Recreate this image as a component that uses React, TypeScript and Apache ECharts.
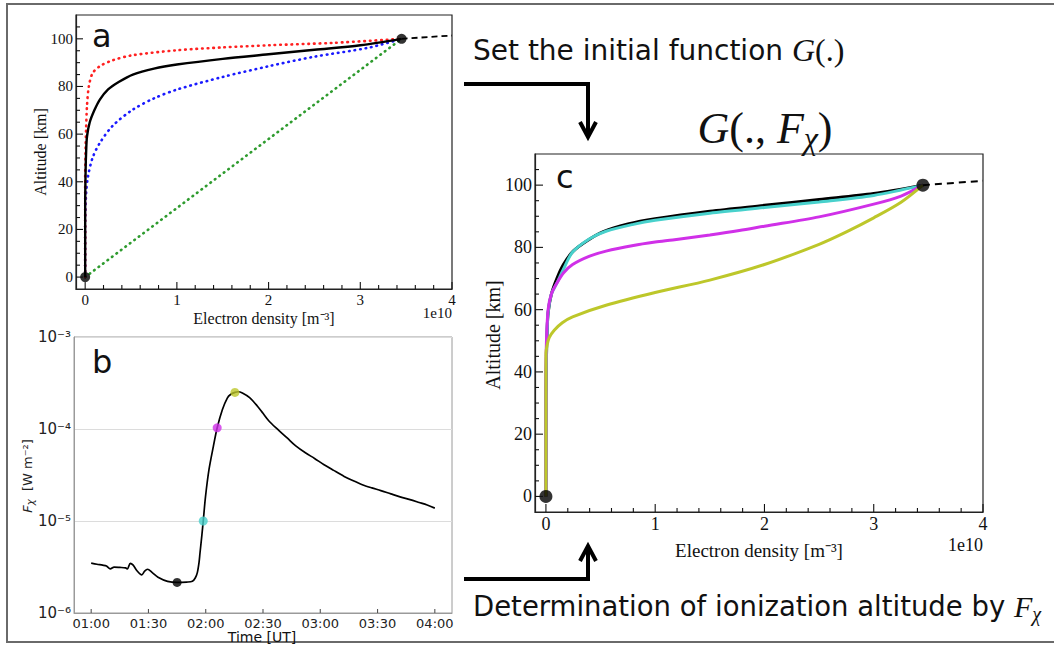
import React, { useEffect, useRef } from "react";
import * as echarts from "echarts";

// ---------- tick values ----------
const densityTicks = [0, 1, 2, 3, 4];
const densityMinor = [0.2, 0.4, 0.6, 0.8, 1.2, 1.4, 1.6, 1.8, 2.2, 2.4, 2.6, 2.8, 3.2, 3.4, 3.6, 3.8];
const altitudeTicks = [0, 20, 40, 60, 80, 100];
const altitudeMinor = [5, 10, 15, 25, 30, 35, 45, 50, 55, 65, 70, 75, 85, 90, 95, 105];
const timeTicks = [60, 90, 120, 150, 180, 210, 240]; // minutes after 00:00 UT

// ---------- panel a : initial functions (density 1e10 m^-3, altitude km) ----------
const blackDensity = [0, 0, 0.005, 0.01, 0.02, 0.05, 0.1, 0.16, 0.25, 0.37, 0.52, 0.75, 1.0, 1.5, 2.0, 2.5, 3.0, 3.45];
const blackAltitude = [0, 30, 45, 52, 59, 65, 70, 74.5, 78.8, 82, 85, 87.5, 89.2, 91.6, 93.5, 95.4, 97.3, 100];
const redDensity = [0, 0, 0.005, 0.01, 0.02, 0.04, 0.08, 0.16, 0.3, 0.5, 1.0, 1.5, 2.0, 2.7, 3.45];
const redAltitude = [0, 40, 55, 62, 72, 80, 85.5, 88.5, 91, 93, 95.2, 96.4, 97.3, 98.3, 100];
const blueDensity = [0, 0, 0.01, 0.03, 0.08, 0.16, 0.3, 0.52, 0.75, 1.0, 1.5, 2.0, 2.5, 3.08, 3.45];
const blueAltitude = [0, 20, 35, 42, 50, 56.3, 63.5, 70.3, 75, 78.7, 84, 88.5, 92.5, 96.2, 100];
const greenDensity = [0, 3.45];
const greenAltitude = [0, 100];
const anchorDensity = [0, 3.45];
const anchorAltitude = [0, 100];
const extDensity = [3.45, 4.0];
const extAltitude = [100, 101.4];

// ---------- panel b : X-ray flux ----------
const bMinutes = [60, 63, 66, 68, 70, 72, 75, 78, 79, 80.5, 82, 84, 86.5, 88, 89.5, 92, 95, 100, 105, 110, 113,
  114.5, 115.6, 116.5, 117, 118, 118.7, 119.9, 121.7, 124, 126, 128.7, 131.3, 133, 135.3, 137, 139.2, 143, 147,
  150, 153, 157, 162.8, 167, 172.4, 177, 182, 187, 192.5, 197, 202, 207, 211.7, 217, 222.2, 227, 231.8, 236, 240];
const bFlux = [3.49e-6, 3.39e-6, 3.31e-6, 3.24e-6, 3.02e-6, 3.16e-6, 3.13e-6, 3.09e-6, 3.02e-6, 3.47e-6, 3.31e-6,
  2.88e-6, 2.6e-6, 2.85e-6, 2.99e-6, 2.75e-6, 2.45e-6, 2.21e-6, 2.15e-6, 2.17e-6, 2.21e-6, 2.4e-6, 2.75e-6,
  3.55e-6, 4.49e-6, 7.08e-6, 1.0e-5, 1.85e-5, 3.61e-5, 6.47e-5, 1.03e-4, 1.62e-4, 2.17e-4, 2.37e-4, 2.5e-4,
  2.54e-4, 2.46e-4, 2.19e-4, 1.78e-4, 1.48e-4, 1.23e-4, 1.02e-4, 7.94e-5, 6.6e-5, 5.48e-5, 4.79e-5, 4.09e-5,
  3.55e-5, 3.05e-5, 2.75e-5, 2.48e-5, 2.29e-5, 2.14e-5, 1.97e-5, 1.82e-5, 1.71e-5, 1.59e-5, 1.49e-5, 1.38e-5];
const markMinutes = [105, 118.7, 126, 135.3];
const markFlux = [2.15e-6, 1.0e-5, 1.03e-4, 2.5e-4];
const markColors = ["#000000", "#48d1cc", "#d030e8", "#bdc72a"];

// ---------- panel c : G(., F) ----------
const cyanDensity = [0, 0, 0.005, 0.01, 0.02, 0.05, 0.1, 0.16, 0.244, 0.4, 0.55, 0.8, 1.0, 1.5, 2.0, 2.5, 3.0, 3.45];
const cyanAltitude = [0, 30, 45, 52, 59, 65, 68.5, 73, 78.5, 82.8, 85.2, 87.4, 88.7, 91, 92.8, 94.6, 96.7, 100];
const magentaDensity = [0, 0, 0.005, 0.02, 0.05, 0.1, 0.16, 0.244, 0.4, 0.55, 0.8, 1.0, 1.16, 1.5, 1.77, 2.0, 2.5, 3.0, 3.25, 3.45];
const magentaAltitude = [0, 40, 50, 60, 65, 68.5, 71.8, 74.5, 77.2, 78.8, 80.6, 81.7, 82.4, 84, 85.4, 86.8, 89.8, 93.9, 96.5, 100];
const yellowDensity = [0, 0, 0.01, 0.03, 0.076, 0.15, 0.244, 0.55, 1.0, 1.5, 2.0, 2.5, 2.75, 3.0, 3.25, 3.45];
const yellowAltitude = [0, 46, 48.5, 51, 53.4, 55.8, 57.7, 61.4, 65.5, 69.5, 74.5, 81, 85, 89.5, 94.5, 100];

const SERIF = "'Liberation Serif', 'Times New Roman', serif";
const SANS = "'DejaVu Sans', Verdana, sans-serif";
const CYAN = "#48d1cc";
const MAGENTA = "#d030e8";
const YELLOW = "#bdc72a";

const zip = (xs: number[], ys: number[]) => xs.map((x, i) => [x, ys[i]]);
const pad2 = (n: number) => (n < 10 ? "0" : "") + n;
const SUP: Record<string, string> = { "-": "\u207B", "1": "\u00B9", "2": "\u00B2", "3": "\u00B3", "4": "\u2074", "5": "\u2075", "6": "\u2076" };
const sup = (s: string) => s.split("").map((c) => SUP[c] || c).join("");

function linAxis(gridIndex: number, dim: "x" | "y", min: number, max: number, major: number[], fontSize: number) {
  return {
    type: "value",
    gridIndex,
    min,
    max,
    position: dim === "x" ? "bottom" : "left",
    axisLine: { show: true, onZero: false, lineStyle: { color: "#222", width: 1.2 } },
    splitLine: { show: false },
    axisTick: { show: false },
    axisLabel: {
      show: true,
      customValues: major,
      fontFamily: SERIF,
      fontSize,
      color: "#111",
      margin: 3,
      formatter: (v: number) => String(v),
    },
  };
}

// tick marks as thin rectangle symbols placed through the axes' scales
function tickMarks(xA: number, yA: number, points: number[][], vertical: boolean, len: number, color: string) {
  return {
    type: "scatter",
    xAxisIndex: xA,
    yAxisIndex: yA,
    silent: true,
    clip: false,
    z: 20,
    symbol: "rect",
    symbolSize: vertical ? [1.1, len] : [len, 1.1],
    symbolOffset: vertical ? [0, -len / 2] : [len / 2, 0],
    itemStyle: { color, opacity: 1 },
    data: points,
  };
}

function linTickSeries(xA: number, yA: number, xMin: number, yMin: number, majorLen: number) {
  const minorLen = Math.round(majorLen * 0.55);
  return [
    tickMarks(xA, yA, densityTicks.map((v) => [v, yMin]), true, majorLen, "#111"),
    tickMarks(xA, yA, densityMinor.map((v) => [v, yMin]), true, minorLen, "#111"),
    tickMarks(xA, yA, altitudeTicks.map((v) => [xMin, v]), false, majorLen, "#111"),
    tickMarks(xA, yA, altitudeMinor.map((v) => [xMin, v]), false, minorLen, "#111"),
  ];
}

function panelCurves(xA: number, yA: number, list: any[]) {
  return list.map((s) => ({ xAxisIndex: xA, yAxisIndex: yA, ...s }));
}

export default function App() {
  const ref = useRef<HTMLDivElement>(null);
  useEffect(() => {
    if (!ref.current) return;
    const chart = echarts.init(ref.current, undefined, { renderer: "svg" });

    // axis order: a -> 0 ; c -> 1 ; b -> 2
    const aX = linAxis(0, "x", -0.1, 4, densityTicks, 15);
    const aY = linAxis(0, "y", -5, 110, altitudeTicks, 15);
    const cX = linAxis(1, "x", -0.1, 4, densityTicks, 18);
    const cY = linAxis(1, "y", -5, 110, altitudeTicks, 18);

    const bX = {
      type: "value",
      gridIndex: 2,
      min: 51,
      max: 249,
      position: "bottom",
      axisLine: { show: true, onZero: false, lineStyle: { color: "#9a9a9a", width: 1 } },
      splitLine: { show: false },
      axisTick: { show: false },
      axisLabel: {
        customValues: timeTicks,
        fontFamily: SANS,
        fontSize: 13,
        color: "#222",
        margin: 4,
        formatter: (v: number) => pad2(Math.floor(v / 60)) + ":" + pad2(Math.round(v % 60)),
      },
    };
    const bY = {
      type: "log",
      logBase: 10,
      gridIndex: 2,
      min: 1e-6,
      max: 1e-3,
      position: "left",
      axisLine: { show: true, onZero: false, lineStyle: { color: "#9a9a9a", width: 1 } },
      axisTick: { show: false },
      splitLine: { show: true, lineStyle: { color: "#dcdcdc", width: 1 } },
      axisLabel: {
        fontFamily: SANS,
        fontSize: 15,
        color: "#222",
        margin: 3,
        formatter: (v: number) => "10" + sup(String(Math.round(Math.log10(v)))),
      },
    };

    const dotted = (color: string) => ({ color, width: 2.6, type: [0.6, 5], cap: "round" });

    const series: any[] = [
      ...panelCurves(0, 0, [
        { type: "line", data: zip(greenDensity, greenAltitude), lineStyle: dotted("#2e9b2e"), showSymbol: false },
        { type: "line", data: zip(blueDensity, blueAltitude), smooth: 0.3, lineStyle: dotted("#1a1aff"), showSymbol: false },
        { type: "line", data: zip(redDensity, redAltitude), smooth: 0.3, lineStyle: dotted("#ff2020"), showSymbol: false },
        { type: "line", data: zip(blackDensity, blackAltitude), smooth: 0.3, lineStyle: { color: "#000", width: 2.4 }, showSymbol: false },
        { type: "line", data: zip(extDensity, extAltitude), lineStyle: { color: "#000", width: 1.8, type: [6, 4] }, showSymbol: false },
        { type: "scatter", data: zip(anchorDensity, anchorAltitude), symbolSize: 10, itemStyle: { color: "#000" }, z: 5 },
      ]),
      ...linTickSeries(0, 0, -0.1, -5, 7),
      ...panelCurves(1, 1, [
        { type: "line", data: zip(blackDensity, blackAltitude), smooth: 0.3, lineStyle: { color: "#000", width: 3 }, showSymbol: false },
        { type: "line", data: zip(cyanDensity, cyanAltitude), smooth: 0.3, lineStyle: { color: CYAN, width: 3 }, showSymbol: false },
        { type: "line", data: zip(magentaDensity, magentaAltitude), smooth: 0.3, lineStyle: { color: MAGENTA, width: 3 }, showSymbol: false },
        { type: "line", data: zip(yellowDensity, yellowAltitude), smooth: 0.3, lineStyle: { color: YELLOW, width: 3 }, showSymbol: false },
        { type: "line", data: zip(extDensity, extAltitude), lineStyle: { color: "#000", width: 2, type: [7, 5] }, showSymbol: false },
        { type: "scatter", data: zip(anchorDensity, anchorAltitude), symbolSize: 13, itemStyle: { color: "#000" }, z: 5 },
      ]),
      ...linTickSeries(1, 1, -0.1, -5, 8),
      ...panelCurves(2, 2, [
        { type: "line", data: zip(bMinutes, bFlux), smooth: 0.3, lineStyle: { color: "#000", width: 1.7 }, showSymbol: false },
        {
          type: "scatter",
          data: markMinutes.map((m, i) => ({ value: [m, markFlux[i]], itemStyle: { color: markColors[i] } })),
          symbolSize: 9,
          z: 5,
        },
      ]),
      tickMarks(2, 2, timeTicks.map((v) => [v, 1e-6]), true, 4, "#555"),
    ];

    const txt = (x: number, y: number, text: string, font: any, extra: any = {}) => ({
      type: "text",
      x,
      y,
      z: 100,
      ...extra,
      style: { text, fill: "#111", align: "center", verticalAlign: "middle", ...font },
    });

    const graphic: any[] = [
      { type: "rect", shape: { x: 7, y: 4, width: 1070, height: 638 }, style: { fill: "none", stroke: "#6a6a6a", lineWidth: 2 }, z: 100 },
      // arrows
      { type: "polyline", shape: { points: [[464, 84], [588, 84], [588, 136]] }, style: { fill: "none", stroke: "#000", lineWidth: 4, lineJoin: "miter" }, z: 100 },
      { type: "polyline", shape: { points: [[580, 122], [588, 137], [596, 122]] }, style: { fill: "none", stroke: "#000", lineWidth: 4 }, z: 100 },
      { type: "polyline", shape: { points: [[464, 579], [588, 579], [588, 547]] }, style: { fill: "none", stroke: "#000", lineWidth: 4, lineJoin: "miter" }, z: 100 },
      { type: "polyline", shape: { points: [[580, 561], [588, 546], [596, 561]] }, style: { fill: "none", stroke: "#000", lineWidth: 4 }, z: 100 },
      // big texts
      txt(473, 50, "{s|Set the initial function }{gi|G}{gu|(.)}", {
        align: "left",
        rich: {
          s: { fontFamily: SANS, fontSize: 28, fill: "#111" },
          gi: { fontFamily: SERIF, fontStyle: "italic", fontSize: 32, fill: "#111" },
          gu: { fontFamily: SERIF, fontSize: 32, fill: "#111" },
        },
      }),
      txt(765, 128, "{gi|G}{gu|(., }{gi|F}{s|\u03C7}{gu|)}", {
        rich: {
          gi: { fontFamily: SERIF, fontStyle: "italic", fontSize: 44, fill: "#111" },
          gu: { fontFamily: SERIF, fontSize: 44, fill: "#111" },
          s: { fontFamily: SERIF, fontStyle: "italic", fontSize: 32, fill: "#111", padding: [20, 0, 0, 0] },
        },
      }),
      txt(473, 606, "{s|Determination of ionization altitude by }{gi|F}{sub|\u03C7}", {
        align: "left",
        rich: {
          s: { fontFamily: SANS, fontSize: 27.5, fill: "#111" },
          gi: { fontFamily: SERIF, fontStyle: "italic", fontSize: 30, fill: "#111" },
          sub: { fontFamily: SERIF, fontStyle: "italic", fontSize: 20, fill: "#111", padding: [16, 0, 0, 0] },
        },
      }),
      // panel letters
      txt(92, 36, "a", { fontFamily: SANS, fontSize: 32, align: "left" }),
      txt(92, 362, "b", { fontFamily: SANS, fontSize: 32, align: "left" }),
      txt(556, 177, "c", { fontFamily: SANS, fontSize: 32, align: "left" }),
      // panel a axis names
      txt(264, 318, "Electron density [m" + sup("-3") + "]", { fontFamily: SERIF, fontSize: 16 }),
      txt(452, 313, "1e10", { fontFamily: SERIF, fontSize: 15, align: "right" }),
      txt(40, 152, "Altitude [km]", { fontFamily: SERIF, fontSize: 16 }, { rotation: Math.PI / 2 }),
      // panel b axis names
      txt(262, 637, "Time [UT]", { fontFamily: SANS, fontSize: 14 }),
      txt(27, 476, "{i|F}{s|\u03C7}{n|  [W m" + sup("-2") + "]}", {
        rich: {
          i: { fontFamily: SANS, fontStyle: "italic", fontSize: 13, fill: "#222" },
          s: { fontFamily: SANS, fontStyle: "italic", fontSize: 10, fill: "#222", padding: [7, 0, 0, 0] },
          n: { fontFamily: SANS, fontSize: 13, fill: "#222" },
        },
      }, { rotation: Math.PI / 2 }),
      // panel c axis names
      txt(759, 550, "Electron density [m" + sup("-3") + "]", { fontFamily: SERIF, fontSize: 19 }),
      txt(983, 545, "1e10", { fontFamily: SERIF, fontSize: 18, align: "right" }),
      txt(493, 335, "Altitude [km]", { fontFamily: SERIF, fontSize: 20 }, { rotation: Math.PI / 2 }),
    ];

    chart.setOption({
      animation: false,
      backgroundColor: "#ffffff",
      textStyle: { fontFamily: SANS },
      grid: [
        { left: 76, top: 15, width: 376, height: 274, show: true, borderColor: "#222", borderWidth: 1.2, backgroundColor: "transparent" },
        { left: 535, top: 154, width: 448, height: 358, show: true, borderColor: "#222", borderWidth: 1.2, backgroundColor: "transparent" },
        { left: 74, top: 337, width: 378, height: 276, show: true, borderColor: "#9a9a9a", borderWidth: 1, backgroundColor: "transparent" },
      ],
      xAxis: [aX, cX, bX],
      yAxis: [aY, cY, bY],
      series,
      graphic,
    });

    return () => chart.dispose();
  }, []);

  return <div ref={ref} style={{ position: "fixed", left: 0, top: 0, width: 1054, height: 646, background: "#fff" }} />;
}
